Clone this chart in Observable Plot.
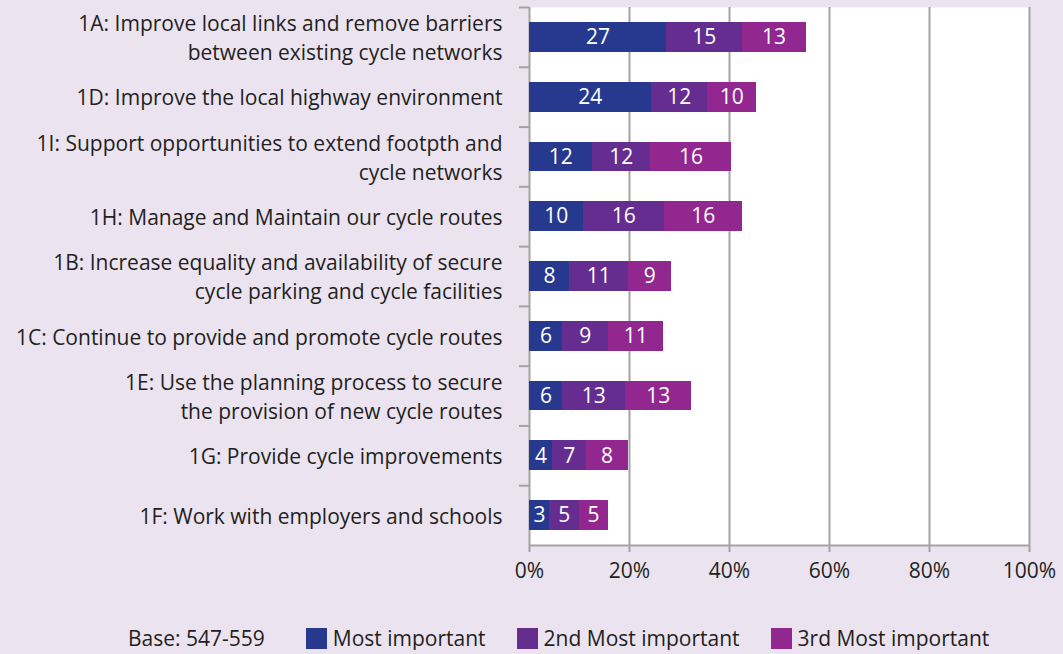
<!DOCTYPE html>
<html><head><meta charset="utf-8">
<script src="https://cdn.jsdelivr.net/npm/d3@7"></script>
<script src="https://cdn.jsdelivr.net/npm/@observablehq/plot@0.6"></script>
<style>
html,body{margin:0;padding:0;background:#ebe4f0;font-family:"Open Sans",sans-serif;color:#231f20;}
#chart svg{display:block;}
#legend{display:flex;align-items:center;padding-left:128px;margin-top:26px;height:24px;font-size:21px;white-space:nowrap;}
#legend .sw{width:21px;height:21px;margin-right:6px;}
#legend .item{display:flex;align-items:center;margin-right:31px;}
#legend .base{margin-right:41px;}
</style></head><body>
<div id="chart"></div><div id="legend"></div>
<script>
const categories = [
  "1A: Improve local links and remove barriers between existing cycle networks",
  "1D: Improve the local highway environment",
  "1I: Support opportunities to extend footpth and cycle networks",
  "1H: Manage and Maintain our cycle routes",
  "1B: Increase equality and availability of secure cycle parking and cycle facilities",
  "1C: Continue to provide and promote cycle routes",
  "1E: Use the planning process to secure the provision of new cycle routes",
  "1G: Provide cycle improvements",
  "1F: Work with employers and schools"
];
const categoryLabels = [
  "1A: Improve local links and remove barriers\nbetween existing cycle networks",
  "1D: Improve the local highway environment",
  "1I: Support opportunities to extend footpth and\ncycle networks",
  "1H: Manage and Maintain our cycle routes",
  "1B: Increase equality and availability of secure\ncycle parking and cycle facilities",
  "1C: Continue to provide and promote cycle routes",
  "1E: Use the planning process to secure\nthe provision of new cycle routes",
  "1G: Provide cycle improvements",
  "1F: Work with employers and schools"
];
const seriesNames = ["Most important", "2nd Most important", "3rd Most important"];
// printed labels (%)
const mostImportant = [27, 24, 12, 10, 8, 6, 6, 4, 3];
const secondMost    = [15, 12, 12, 16, 11, 9, 13, 7, 5];
const thirdMost     = [13, 10, 16, 16, 9, 11, 13, 8, 5];
// bar lengths as drawn (%)
const mostImportantBar = [27.4, 24.3, 12.5, 10.7, 8.0, 6.6, 6.6, 4.6, 4.0];
const secondMostBar    = [15.1, 11.3, 11.7, 16.3, 11.7, 9.1, 12.5, 6.7, 5.9];
const thirdMostBar     = [12.8, 9.7, 16.2, 15.5, 8.7, 11.1, 13.3, 8.4, 5.8];
const seriesColors = ["#27388f", "#652d90", "#92278f"];
const xTicks = [0, 20, 40, 60, 80, 100];
const baseNote = "Base: 547-559";

const seriesLabels = [mostImportant, secondMost, thirdMost];
const seriesBars = [mostImportantBar, secondMostBar, thirdMostBar];
const data = [];
categories.forEach((c, i) => {
  seriesNames.forEach((s, j) => data.push({cat: c, series: s, value: seriesBars[j][i], label: seriesLabels[j][i]}));
});
const labelOf = new Map(categories.map((c, i) => [c, categoryLabels[i]]));

const W = 1063, H = 600, mT = 7, mB = 55;
const step = (H - mT - mB) / categories.length;
const grid = "#a3a3a3";
const FS = 21;

const chart = Plot.plot({
  width: W, height: H,
  marginLeft: 529, marginRight: 34, marginTop: mT, marginBottom: mB,
  style: {background: "transparent", fontFamily: "'Open Sans', sans-serif", fontSize: FS + "px", color: "#231f20"},
  x: {domain: [0, 100], axis: null, label: null},
  y: {domain: categories, padding: 0, round: false, axis: null, label: null},
  color: {domain: seriesNames, range: seriesColors},
  marks: [
    Plot.frame({fill: "white", stroke: null}),
    Plot.ruleX(xTicks, {stroke: grid, strokeWidth: 2}),
    Plot.ruleY([categories[categories.length - 1]], {x1: 0, x2: 100, dy: step / 2, stroke: grid, strokeWidth: 2}),
    Plot.ruleY(categories, {x1: -2, x2: 0, dy: -step / 2, stroke: grid, strokeWidth: 2}),
    Plot.barX(data, Plot.stackX({x: "value", y: "cat", fill: "series", insetTop: 15, insetBottom: 15, shapeRendering: "crispEdges"})),
    Plot.text(data, Plot.stackX({x: "value", y: "cat", text: d => String(d.label), fill: "white", fontSize: FS})),
    Plot.text(categories, {y: d => d, frameAnchor: "left", textAnchor: "end", dx: -27, dy: -1, text: d => labelOf.get(d), fill: "#231f20", fontSize: FS, lineHeight: 1.38}),
    Plot.axisX({ticks: xTicks, tickFormat: d => d + "%", tickSize: 7, stroke: grid, strokeWidth: 2, tickPadding: 11, fill: "#231f20", fontSize: FS, label: null})
  ]
});
document.getElementById("chart").appendChild(chart);

const lg = document.getElementById("legend");
const b = document.createElement("span"); b.className = "base"; b.textContent = baseNote; lg.appendChild(b);
seriesNames.forEach((s, i) => {
  const it = document.createElement("span"); it.className = "item";
  const sw = document.createElement("span"); sw.className = "sw"; sw.style.background = seriesColors[i];
  const t = document.createElement("span"); t.textContent = s;
  it.appendChild(sw); it.appendChild(t); lg.appendChild(it);
});
</script></body></html>
